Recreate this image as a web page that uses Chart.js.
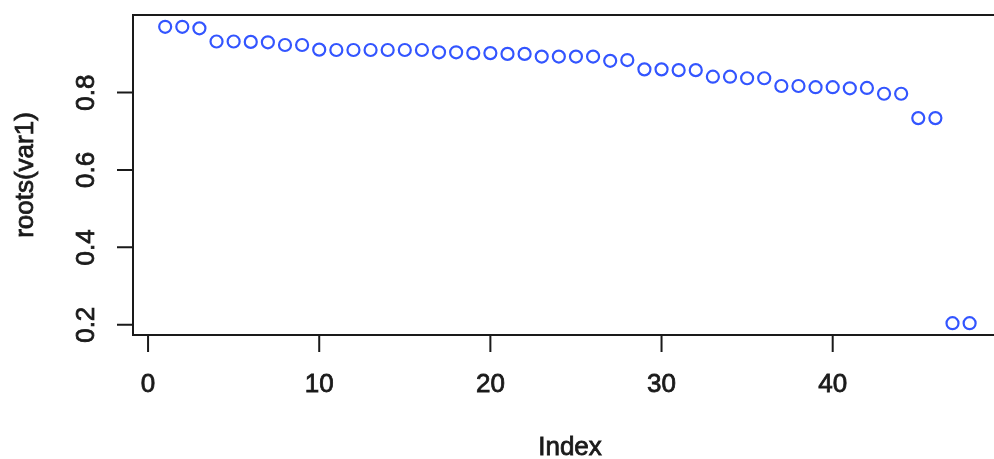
<!DOCTYPE html>
<html>
<head>
<meta charset="utf-8">
<script src="https://cdn.jsdelivr.net/npm/chart.js@4"></script>
<style>
  html, body { margin: 0; padding: 0; background: #fff; overflow: hidden; }
  canvas { display: block; }
</style>
</head>
<body>
<canvas id="rootsChart" width="1010" height="459"></canvas>
<script>
// roots(var1), one value per index
const rootValues = [
    0.970, 0.970, 0.966, 0.932, 0.932, 0.931, 0.930, 0.923, 0.923, 0.911,
    0.910, 0.910, 0.910, 0.910, 0.910, 0.910, 0.904, 0.904, 0.902, 0.902,
    0.900, 0.900, 0.893, 0.893, 0.893, 0.893, 0.882, 0.884, 0.860, 0.860,
    0.858, 0.858, 0.841, 0.841, 0.837, 0.837, 0.817, 0.817, 0.814, 0.814,
    0.811, 0.812, 0.797, 0.797, 0.734, 0.734, 0.204, 0.204
];
const xTicks = [0, 10, 20, 30, 40];
const yTicks = [0.2, 0.4, 0.6, 0.8];
const xTitle = 'Index';
const yTitle = 'roots(var1)';

const FONT = '"Liberation Sans", Arial, Helvetica, sans-serif';
const INK = '#1a1a1a';

// text a little heavier than the plain face, like the screenshot
function heavyText(ctx, text, x, y) {
    ctx.fillText(text, x, y);
    ctx.strokeText(text, x, y);
}

// R-style axes: ticks outside, labels parallel to the axis
const baseAxes = {
    id: 'baseAxes',
    afterDraw(chart) {
        const ctx = chart.ctx;
        const area = chart.chartArea;
        const xs = chart.scales.x;
        const ys = chart.scales.y;

        ctx.save();
        ctx.strokeStyle = INK;
        ctx.lineWidth = 2;
        ctx.strokeRect(area.left, area.top, area.right - area.left, area.bottom - area.top);

        // x axis
        const x0 = xs.getPixelForValue(xTicks[0]);
        const x1 = xs.getPixelForValue(xTicks[xTicks.length - 1]);
        ctx.beginPath();
        ctx.moveTo(x0, area.bottom);
        ctx.lineTo(x1, area.bottom);
        xTicks.forEach(t => {
            const px = xs.getPixelForValue(t);
            ctx.moveTo(px, area.bottom);
            ctx.lineTo(px, area.bottom + 17);
        });
        ctx.stroke();

        // y axis
        const y0 = ys.getPixelForValue(yTicks[0]);
        const y1 = ys.getPixelForValue(yTicks[yTicks.length - 1]);
        ctx.beginPath();
        ctx.moveTo(area.left, y0);
        ctx.lineTo(area.left, y1);
        yTicks.forEach(t => {
            const py = ys.getPixelForValue(t);
            ctx.moveTo(area.left, py);
            ctx.lineTo(area.left - 16, py);
        });
        ctx.stroke();

        // labels
        ctx.fillStyle = INK;
        ctx.lineWidth = 0.8;
        ctx.font = '26px ' + FONT;
        ctx.textAlign = 'center';
        ctx.textBaseline = 'middle';

        xTicks.forEach(t => {
            heavyText(ctx, String(t), xs.getPixelForValue(t), 385);
        });
        yTicks.forEach(t => {
            ctx.save();
            ctx.translate(87, ys.getPixelForValue(t));
            ctx.rotate(-Math.PI / 2);
            heavyText(ctx, t.toFixed(1), 0, 0);
            ctx.restore();
        });

        // titles
        heavyText(ctx, xTitle, 570, 448);
        ctx.save();
        ctx.translate(26, (area.top + area.bottom) / 2);
        ctx.rotate(-Math.PI / 2);
        heavyText(ctx, yTitle, 0, 0);
        ctx.restore();
        ctx.restore();
    }
};

const ctx = document.getElementById('rootsChart').getContext('2d');
new Chart(ctx, {
    type: 'scatter',
    data: {
        datasets: [{
            data: rootValues.map((v, i) => ({ x: i + 1, y: v })),
            backgroundColor: 'rgba(0,0,0,0)',
            borderColor: '#3355ff',
            borderWidth: 2.2,
            pointRadius: 6,
            pointHoverRadius: 6
        }]
    },
    options: {
        responsive: false,
        animation: false,
        layout: {
            padding: { left: 133, top: 15, right: 4, bottom: 124 }
        },
        plugins: {
            legend: { display: false },
            tooltip: { enabled: false }
        },
        scales: {
            x: { type: 'linear', min: -0.88, max: 49.88, display: false },
            y: { type: 'linear', min: 0.1735, max: 1.0005, display: false }
        }
    },
    plugins: [baseAxes]
});
</script>
</body>
</html>
